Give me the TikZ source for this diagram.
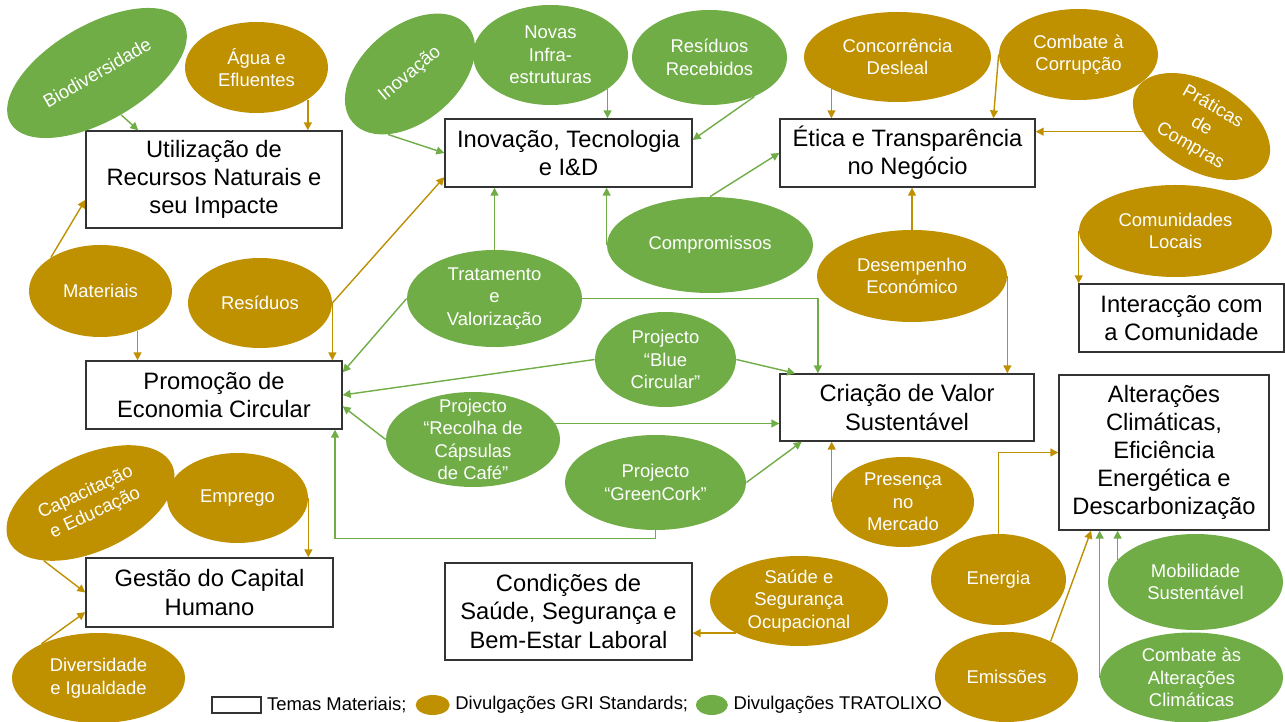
\documentclass[tikz,border=0pt]{standalone}
\usepackage{fontspec}
\setmainfont{Liberation Sans}
\usepackage{tikz}
\usetikzlibrary{positioning, calc, shapes.geometric, arrows.meta}
\definecolor{griColor}{RGB}{191,144,0}
\definecolor{tratoColor}{RGB}{112,173,71}
\tikzset{
    sz/.style 2 args={
        minimum width=#1*0.02cm,
        minimum height=#2*0.02cm
    },
    tema/.style={
        rectangle,
        draw=black!80,
        line width=0.8pt,
        fill=white,
        font=\fontsize{13.5}{16}\selectfont,
        align=center,
        inner sep=0pt
    },
    gri/.style={
        ellipse,
        fill=griColor,
        text=white,
        font=\fontsize{10.5}{12.8}\selectfont,
        align=center,
        inner xsep=0pt,
        inner ysep=-8pt
    },
    trato/.style={
        gri,
        fill=tratoColor
    },
    legtext/.style={
        font=\fontsize{10.5}{12.8}\selectfont,
        inner sep=0pt
    },
    ptr/.style={
        -{Triangle[length=4.5pt,width=4.5pt]},
        line width=0.8pt
    },
    ptrgri/.style={ptr, draw=griColor},
    ptrtrato/.style={ptr, draw=tratoColor}
}

\begin{document}
\begin{tikzpicture}[x=0.02cm, y=-0.02cm]
    \useasboundingbox (0,0) rectangle (1285,722);

    % temas materiais
    \node[tema, sz={256}{97}] (util) at (214,179.5) {Utilização de\\Recursos Naturais e\\seu Impacte};
    \node[tema, sz={247}{68}] (inov) at (568.5,153) {Inovação, Tecnologia\\e I\&D};
    \node[tema, sz={255}{68}] (etica) at (907.5,153) {Ética e Transparência\\no Negócio};
    \node[tema, sz={205}{68}] (inter) at (1181.5,318) {Interacção com\\a Comunidade};
    \node[tema, sz={256}{68}] (promo) at (214,395) {Promoção de\\Economia Circular};
    \node[tema, sz={254}{67}] (criacao) at (907,407.5) {Criação de Valor\\Sustentável};
    \node[tema, sz={210}{155}] (alter) at (1164,452.5) {Alterações\\Climáticas,\\Eficiência\\Energética e\\Descarbonização};
    \node[tema, sz={247}{69}] (gestao) at (209.5,592.5) {Gestão do Capital\\Humano};
    \node[tema, sz={247}{97}] (cond) at (568.5,611.5) {Condições de\\Saúde, Segurança e\\Bem-Estar Laboral};

    % divulgacoes GRI
    \node[gri, sz={143}{91}] (agua) at (256.5,67.5) {Água e\\Efluentes};
    \node[gri, sz={143}{92}] (materiais) at (100.5,291) {Materiais};
    \node[gri, sz={144}{90}] (residuos) at (260,303) {Resíduos};
    \node[gri, sz={187}{90}] (concor) at (897.5,57) {Concorrência\\Desleal};
    \node[gri, sz={159}{91}] (corrup) at (1078.5,54.5) {Combate à\\Corrupção};
    \node[gri, sz={150}{88}, rotate=-30] (praticas) at (1201.5,126.5) {Práticas\\de\\Compras};
    \node[gri, sz={193}{92}] (comun) at (1175.5,231) {Comunidades\\Locais};
    \node[gri, sz={190}{92}] (desemp) at (912,276) {Desempenho\\Económico};
    \node[gri, sz={142}{90}] (presenca) at (903,502) {Presença\\no\\Mercado};
    \node[gri, sz={178}{90}] (saude) at (799,601) {Saúde e\\Segurança\\Ocupacional};
    \node[gri, sz={135}{91}] (energia) at (998.5,579.5) {Energia};
    \node[gri, sz={143}{90}] (emiss) at (1006.5,677) {Emissões};
    \node[gri, sz={180}{96}, rotate=25] (capac) at (90.5,503) {Capacitação\\e Educação};
    \node[gri, sz={141}{90}] (emprego) at (237.5,498) {Emprego};
    \node[gri, sz={173}{90}] (divers) at (98.5,678) {Diversidade\\e Igualdade};

    % divulgacoes TRATOLIXO
    \node[trato, sz={200}{96}, rotate=30] (bio) at (97,73) {Biodiversidade};
    \node[trato, sz={150}{95}, rotate=40] (inovacao) at (410,74) {Inovação};
    \node[trato, sz={155}{100}] (novas) at (550.5,55) {Novas\\Infra-\\estruturas};
    \node[trato, sz={155}{95}] (resrec) at (709.5,57.5) {Resíduos\\Recebidos};
    \node[trato, sz={206}{96}] (compr) at (710,245) {Compromissos};
    \node[trato, sz={175}{97}] (trat) at (494.5,298.5) {Tratamento\\e\\Valorização};
    \node[trato, sz={141}{95}] (blue) at (665.5,359.5) {Projecto\\“Blue\\Circular”};
    \node[trato, sz={174}{95}] (recolha) at (473,439.5) {Projecto\\“Recolha de\\Cápsulas\\de Café”};
    \node[trato, sz={181}{95}] (greenc) at (655.5,482.5) {Projecto\\“GreenCork”};
    \node[trato, sz={175}{96}] (mobil) at (1195.5,582) {Mobilidade\\Sustentável};
    \node[trato, sz={183}{90}] (clima) at (1191.5,677.5) {Combate às\\Alterações\\Climáticas};

    % setas GRI
    \draw[ptrgri] (agua.-32.5) -- (agua.-32.5 |- util.north);
    \draw[ptrgri] (materiais.146) -- (util.189.1);
    \draw[ptrgri] (materiais.-47.3) -- (materiais.-47.3 |- promo.north);
    \draw[ptrgri] (residuos.east) -- (residuos.east |- promo.north);
    \draw[ptrgri] (residuos.east) -- (inov.191);
    \draw[ptrgri] (concor.206.1) -- (concor.206.1 |- etica.north);
    \draw[ptrgri] (corrup.west) -- (etica.22.4);
    \draw[ptrgri] (praticas.215) -- (praticas.215 -| etica.east);
    \draw[ptrgri] (desemp.north) -- (desemp.north |- etica.south);
    \draw[ptrgri] (desemp.east) -- (desemp.east |- criacao.north);
    \draw[ptrgri] (comun.west) -- (comun.west |- inter.north);
    \draw[ptrgri] (presenca.west) -- (presenca.west |- criacao.south);
    \draw[ptrgri] (energia.north) |- (alter.west);
    \draw[ptrgri] (emiss.39.1) -- (alter.227.5);
    \draw[ptrgri] (emprego.east) -- (emprego.east |- gestao.north);
    \draw[ptrgri] (capac.206.6) -- (gestao.west);
    \draw[ptrgri] (divers.149) -- (gestao.189);
    \draw[ptrgri] (saude.207.3) -- (saude.207.3 -| cond.east);

    % setas TRATOLIXO
    \draw[ptrtrato] (bio.south) -- (util.147.8);
    \draw[ptrtrato] (inovacao.210) -- (inov.west);
    \draw[ptrtrato] (novas.-31.2) -- (novas.-31.2 |- inov.north);
    \draw[ptrtrato] (resrec.-41) -- (inov.6);
    \draw[ptrtrato] (compr.north) -- (etica.west);
    \draw[ptrtrato] (compr.west) -- (compr.west |- inov.south);
    \draw[ptrtrato] (trat.north) -- (trat.north |- inov.south);
    \draw[ptrtrato] (trat.west) -- (promo.10.2);
    \draw[ptrtrato] (trat.east) -| (criacao.159.8);
    \draw[ptrtrato] (blue.west) -- (promo.east);
    \draw[ptrtrato] (blue.east) -- (criacao.163.3);
    \draw[ptrtrato] (recolha.west) -- (promo.-5.8);
    \draw[ptrtrato] (recolha.11.4) -- (recolha.11.4 -| criacao.west);
    \draw[ptrtrato] (greenc.east) -- (criacao.198.2);
    \draw[ptrtrato] (greenc.south) -- ++(0,8) -| (promo.-16.6);
    \draw[ptrtrato] (mobil.164.9) -- (mobil.164.9 |- alter.south);
    \draw[ptrtrato] (clima.west) -- (clima.west |- alter.south);

    % legenda
    \node[tema, sz={49}{16}] (legtema) at (236.5,705) {};
    \node[legtext, right=0.1cm of legtema] (legtematxt) {Temas Materiais;};
    \node[gri, sz={34}{20}, right=0.17cm of legtematxt] (leggri) {};
    \node[legtext, right=0.1cm of leggri] (leggritxt) {Divulgações GRI Standards;};
    \node[trato, sz={32}{20}, right=0.14cm of leggritxt] (legtrato) {};
    \node[legtext, right=0.1cm of legtrato] (legtratotxt) {Divulgações TRATOLIXO};
\end{tikzpicture}
\end{document}
